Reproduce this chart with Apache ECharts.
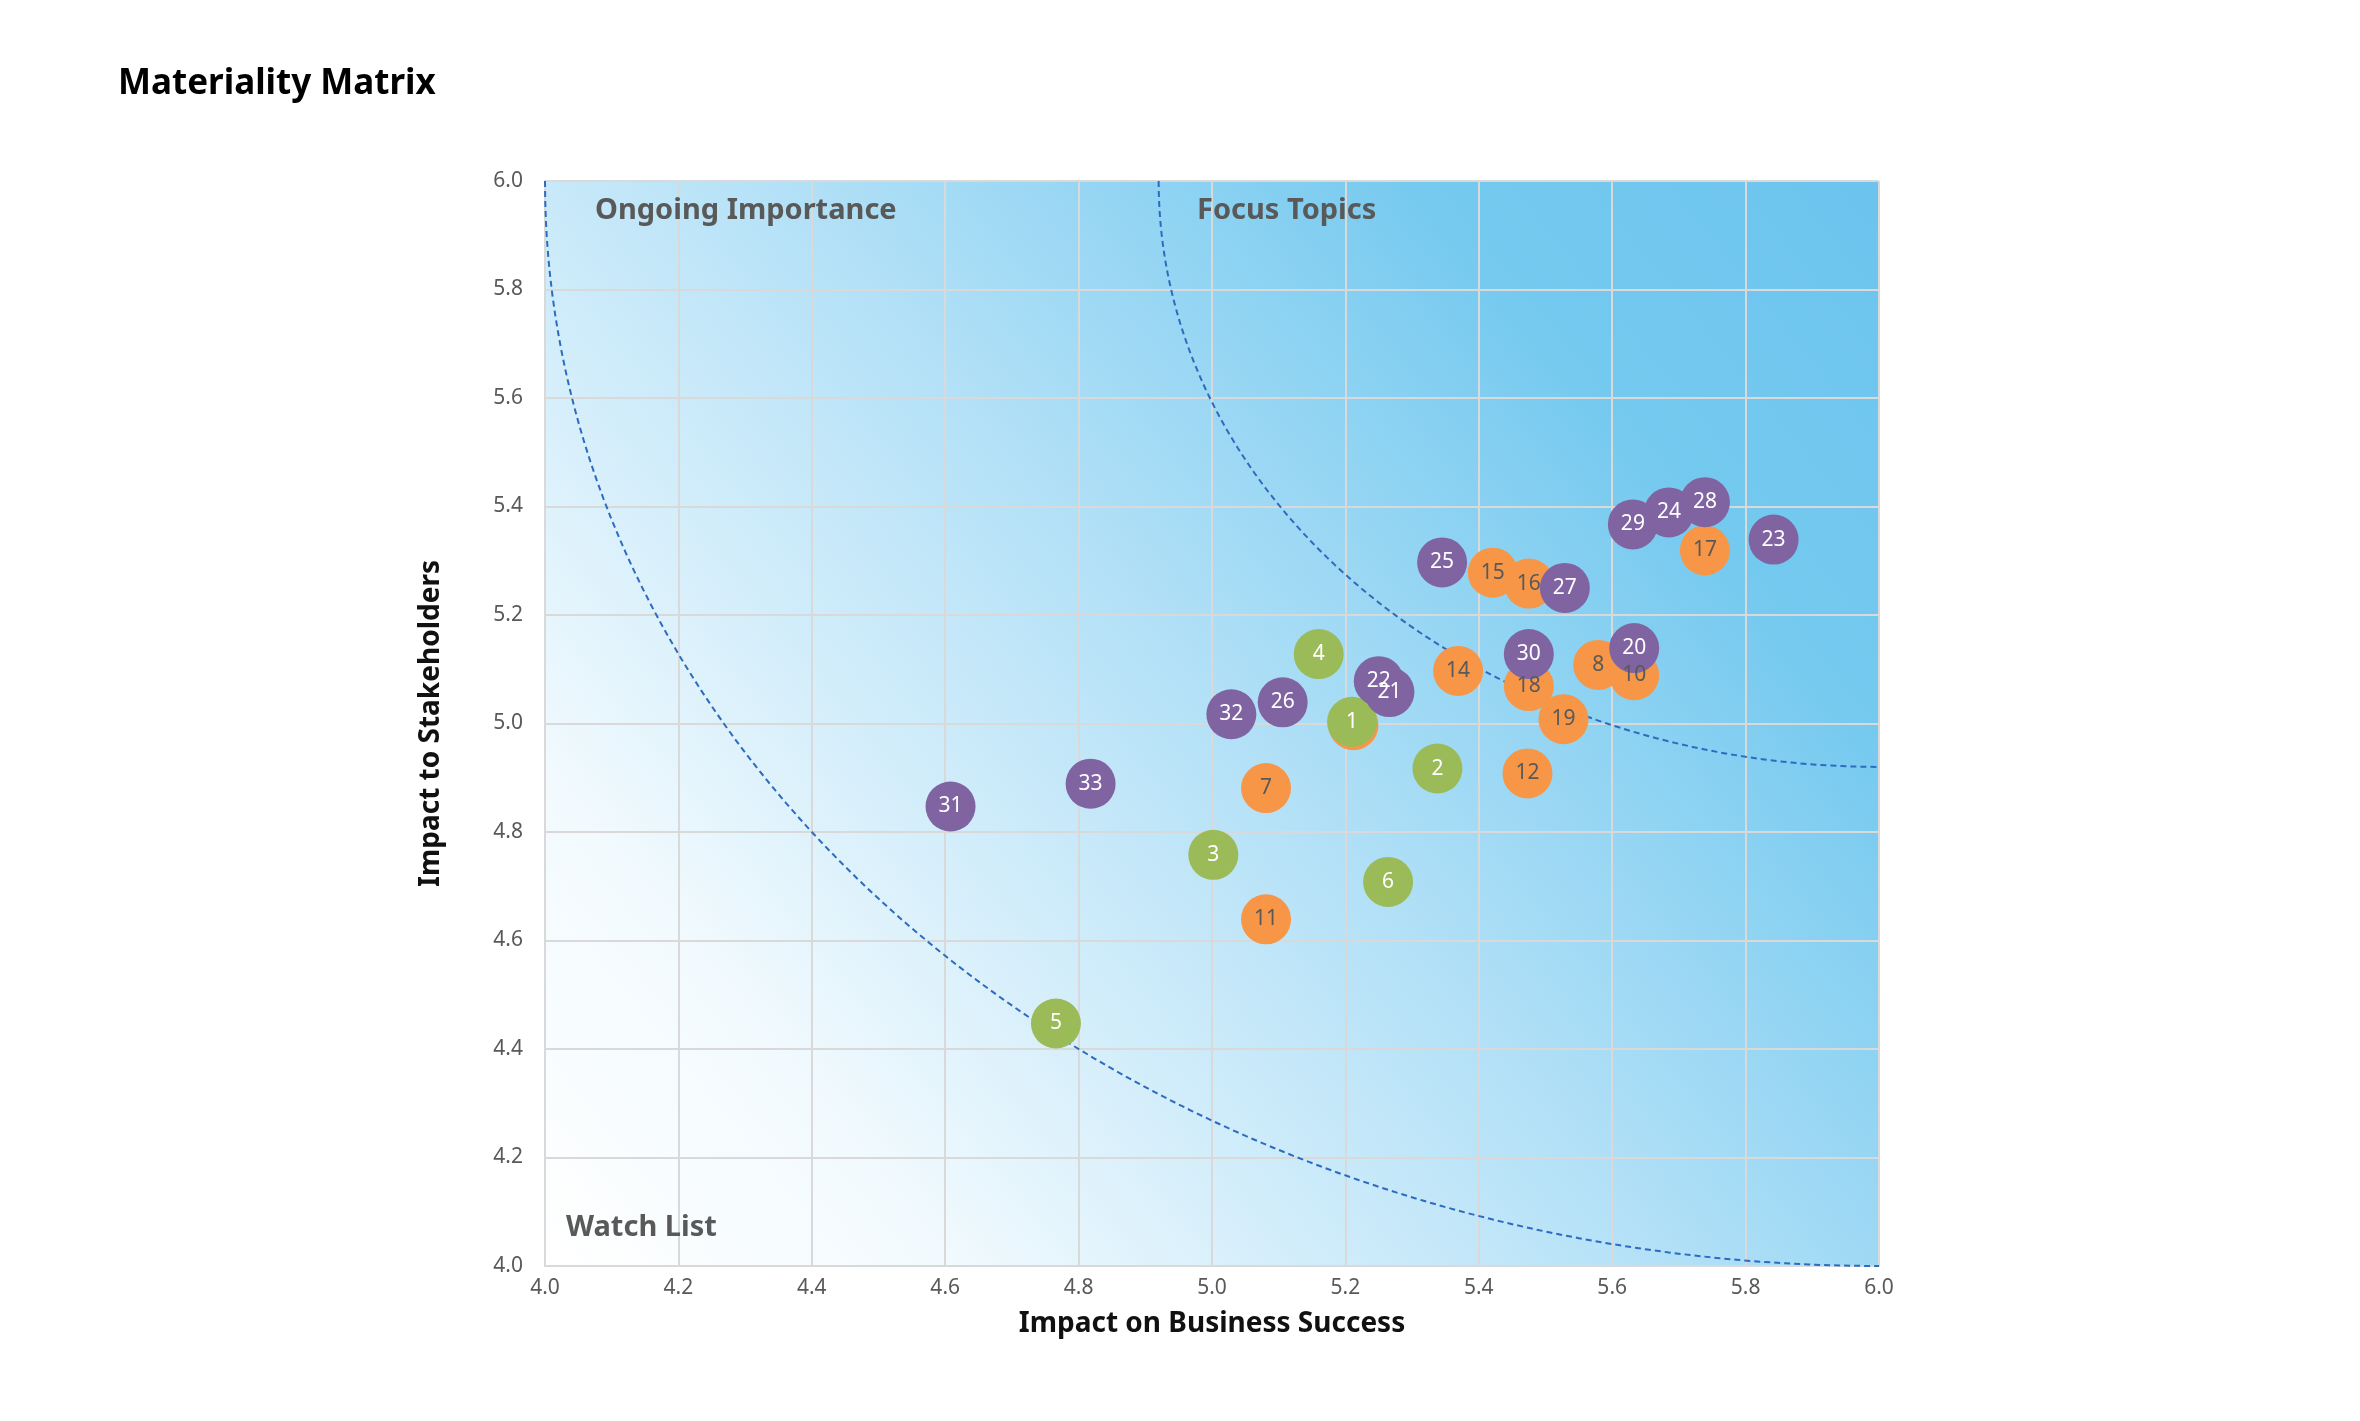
<!DOCTYPE html>
<html><head><meta charset="utf-8">
<script src="https://cdn.jsdelivr.net/npm/echarts@6/dist/echarts.min.js"></script>
<style>html,body{margin:0;padding:0;background:#fff}#c{width:2360px;height:1421px}</style>
</head><body><div id="c"></div>
<script>
const greenPts = [[5.21,5.003,'1'],[5.338,4.917,'2'],[5.002,4.758,'3'],[5.16,5.128,'4'],[4.766,4.447,'5'],[5.264,4.708,'6']];
const orangePts = [[5.212,4.997,''],[5.081,4.881,'7'],[5.579,5.108,'8'],[5.633,5.089,'10'],[5.081,4.639,'11'],[5.473,4.908,'12'],[5.369,5.097,'14'],[5.421,5.278,'15'],[5.475,5.258,'16'],[5.739,5.319,'17'],[5.475,5.069,'18'],[5.527,5.008,'19']];
const purplePts = [[5.633,5.139,'20'],[5.266,5.058,'21'],[5.25,5.078,'22'],[5.842,5.339,'23'],[5.685,5.389,'24'],[5.345,5.297,'25'],[5.106,5.039,'26'],[5.529,5.25,'27'],[5.739,5.408,'28'],[5.631,5.367,'29'],[5.475,5.128,'30'],[4.608,4.847,'31'],[5.029,5.017,'32'],[4.818,4.889,'33']];
const arcRadii = [2.0, 1.08];
const arcCenter = [6, 6];

const chart = echarts.init(document.getElementById('c'));
function bubble(name, data, color, labelColor){
  return {type:'scatter', name, data, symbolSize:50, z:5,
    itemStyle:{color, opacity:1},
    label:{show:true, formatter:p=>p.value[2], color:labelColor, fontSize:21, fontFamily:'Noto Sans'},
    emphasis:{disabled:true}};
}
const arcSeries = {
  type:'custom', data:arcRadii.map(r=>[r]), z:3, silent:true,
  renderItem:(params, api)=>{
    const r = api.value(0), pts=[];
    for(let i=0;i<=90;i++){
      const t = Math.PI + (i/90)*(Math.PI/2);
      pts.push(api.coord([arcCenter[0]+r*Math.cos(t), arcCenter[1]+r*Math.sin(t)]));
    }
    return {type:'polyline', shape:{points:pts}, style:{stroke:'#2e6bbf', lineWidth:2, lineDash:[6,4], fill:null}};
  }
};
chart.setOption({
  animation:false,
  title:{text:'Materiality Matrix', left:113, top:62, textStyle:{fontSize:35, fontWeight:'bold', color:'#000', fontFamily:'Noto Sans'}},
  grid:{left:545, right:481, top:181, bottom:155, show:true, borderWidth:0,
    backgroundColor:new echarts.graphic.LinearGradient(0,1,1,0,[{offset:0,color:'#ffffff'},{offset:0.18,color:'#f2fafe'},{offset:0.5,color:'#b4e1f7'},{offset:0.8,color:'#74c9ef'},{offset:1,color:'#6cc4ee'}])},
  xAxis:{type:'value', min:4, max:6, interval:0.2, name:'Impact on Business Success', nameLocation:'middle', nameGap:44,
    nameTextStyle:{fontSize:28, fontWeight:'bold', color:'#111', fontFamily:'Noto Sans'},
    axisLine:{show:true, lineStyle:{color:'#d9d9d9', width:2}}, axisTick:{show:false},
    axisLabel:{formatter:v=>v.toFixed(1), fontSize:21, color:'#595959', margin:12, fontFamily:'Noto Sans'},
    splitLine:{show:true, lineStyle:{color:'#d9d9d9', width:2}}},
  yAxis:{type:'value', min:4, max:6, interval:0.2, name:'Impact to Stakeholders', nameLocation:'middle', nameGap:100,
    nameTextStyle:{fontSize:28, fontWeight:'bold', color:'#111', fontFamily:'Noto Sans'},
    axisLine:{show:true, lineStyle:{color:'#d9d9d9', width:2}}, axisTick:{show:false},
    axisLabel:{formatter:v=>v.toFixed(1), fontSize:21, color:'#595959', margin:22, fontFamily:'Noto Sans'},
    splitLine:{show:true, lineStyle:{color:'#d9d9d9', width:2}}},
  graphic:[
    {type:'text', left:595, top:196, style:{text:'Ongoing Importance', fontSize:29, fontWeight:'bold', fill:'#595959', fontFamily:'Noto Sans'}, z:10},
    {type:'text', left:1197, top:196, style:{text:'Focus Topics', fontSize:29, fontWeight:'bold', fill:'#595959', fontFamily:'Noto Sans'}, z:10},
    {type:'text', left:566, top:1213, style:{text:'Watch List', fontSize:29, fontWeight:'bold', fill:'#595959', fontFamily:'Noto Sans'}, z:10}
  ],
  series:[arcSeries,
    bubble('orange', orangePts, '#f79646', '#595959'),
    bubble('green', greenPts, '#9bbb59', '#ffffff'),
    bubble('purple', purplePts, '#8064a2', '#ffffff')]
});
</script></body></html>
